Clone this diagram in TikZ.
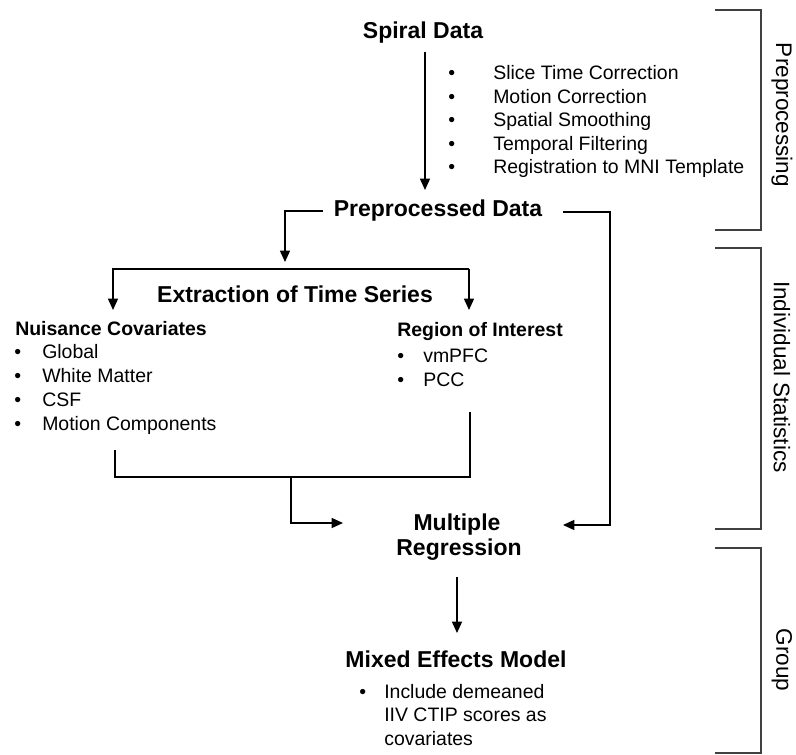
\documentclass[tikz,border=0pt]{standalone}
\usepackage{fontspec}
\setmainfont{Liberation Sans}
\usetikzlibrary{arrows.meta}
\begin{document}
\begin{tikzpicture}[x=0.75pt,y=-0.75pt,
  heading/.style={font=\fontsize{17.25}{20}\selectfont\bfseries, inner sep=0pt, anchor=base},
  subhead/.style={font=\fontsize{14.6}{17}\selectfont\bfseries, inner sep=0pt, anchor=base west},
  item/.style={font=\fontsize{14.6}{17}\selectfont, inner sep=0pt, anchor=base west},
  side/.style={font=\fontsize{16.9}{20}\selectfont, inner sep=0pt, rotate=-90},
  conn/.style={line width=1.1pt, draw=black},
  arr/.style={conn, -{Triangle[length=8.5pt,width=7.5pt]}},
  brk/.style={line width=0.9pt, draw=black!75}]
\useasboundingbox (0,0) rectangle (796,755);

% headings
\node[heading] (spiral) at (423,39) {Spiral Data};
\node[heading] (prep) at (438,217) {Preprocessed Data};
\node[heading] (extr) at (295,303) {Extraction of Time Series};
\node[heading] (mreg1) at (457,530) {Multiple};
\node[heading] (mreg2) at (459,555) {Regression};
\node[heading] (mixed) at (456,667) {Mixed Effects Model};

% preprocessing steps
\foreach \t [count=\i from 0] in {Slice Time Correction, Motion Correction, Spatial Smoothing, Temporal Filtering, Registration to MNI Template}{
  \node[item] (pb\i) at (448,80+23.5*\i) {•};
  \node[item] (pt\i) at (493,80+23.5*\i) {\t};
}

% nuisance covariates
\node[subhead] (nuis) at (15,336) {Nuisance Covariates};
\foreach \t [count=\i from 0] in {Global, White Matter, CSF, Motion Components}{
  \node[item] (nb\i) at (14,359+23.7*\i) {•};
  \node[item] (nt\i) at (42,359+23.7*\i) {\t};
}

% region of interest
\node[subhead] (roi) at (397,337) {Region of Interest};
\foreach \t [count=\i from 0] in {vmPFC, PCC}{
  \node[item] (rb\i) at (397,363+23.5*\i) {•};
  \node[item] (rt\i) at (423,363+23.5*\i) {\t};
}

% mixed effects bullet
\node[item] (mb) at (359,698) {•};
\node[item] (mt1) at (384,698) {Include demeaned};
\node[item] (mt2) at (384,721.5) {IIV CTIP scores as};
\node[item] (mt3) at (384,745) {covariates};

% side labels
\node[side] (lpre) at (782,115) {Preprocessing};
\node[side] (lind) at (782,377) {Individual Statistics};
\node[side] (lgrp) at (782,660) {Group};

% connector coordinates
\coordinate (s1) at (425,52);
\coordinate (s2) at (425,190);
\coordinate (p1) at (323,211);
\coordinate (p2) at (285,211);
\coordinate (p3) at (285,262);
\coordinate (h1) at (113,269);
\coordinate (h2) at (469,269);
\coordinate (h1e) at (113,310);
\coordinate (h2e) at (469,310);
\coordinate (q1) at (563,212);
\coordinate (q2) at (610,212);
\coordinate (q3) at (610,525);
\coordinate (q4) at (563,525);
\coordinate (b1) at (115,450);
\coordinate (b2) at (115,477);
\coordinate (b3) at (470,477);
\coordinate (b4) at (470,412);
\coordinate (m1) at (291,477);
\coordinate (m2) at (291,523);
\coordinate (m3) at (343,523);
\coordinate (r1) at (457,577);
\coordinate (r2) at (457,633);

% connectors
\draw[arr] (s1) -- (s2);
\draw[arr] (p1) -- (p2) -- (p3);
\draw[arr] (h2) -- (h1) -- (h1e);
\draw[arr] (h2) -- (h2e);
\draw[arr] (q1) -- (q2) -- (q3) -- (q4);
\draw[conn] (b1) -- (b2) -- (b3) -- (b4);
\draw[arr] (m1) -- (m2) -- (m3);
\draw[arr] (r1) -- (r2);

% brackets
\draw[brk] (715,10) -- (761,10) -- (761,230) -- (715,230);
\draw[brk] (715,248) -- (761,248) -- (761,529) -- (715,529);
\draw[brk] (715,548) -- (761,548) -- (761,753) -- (715,753);
\end{tikzpicture}
\end{document}
